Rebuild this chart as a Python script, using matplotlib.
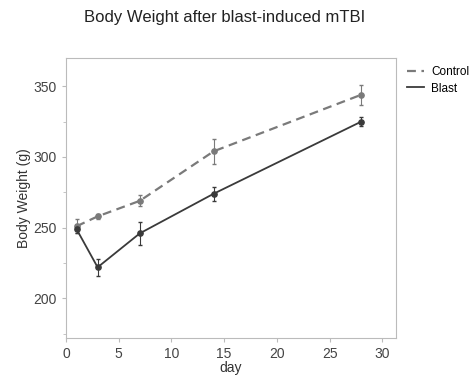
import matplotlib.pyplot as plt
from matplotlib.lines import Line2D
from matplotlib.ticker import MultipleLocator

plt.rcParams['font.family'] = ['Liberation Sans', 'DejaVu Sans']

days = [1, 3, 7, 14, 28]
control = [251, 258, 269, 304, 344]
control_err = [5, 2, 4, 9, 7]
blast = [249, 222, 246, 274, 325]
blast_err = [3, 6, 8, 5, 3]

fig = plt.figure(figsize=(4.77, 3.76), dpi=100)
ax = fig.add_axes([66/477, 38/376, 330/477, 280/376])

ctrl_style = dict(color='#7a7a7a', ls=(0, (4, 2.5)), lw=1.6)
blast_style = dict(color='#3a3a3a', ls='-', lw=1.3)

ax.errorbar(days, control, yerr=control_err, marker='o', ms=3.8, elinewidth=0.8,
            capsize=1.5, **ctrl_style)
ax.errorbar(days, blast, yerr=blast_err, marker='o', ms=3.8, elinewidth=0.8,
            capsize=1.5, **blast_style)

ax.set_xlim(0, 31.3)
ax.set_ylim(172, 370)
ax.set_xticks([0, 5, 10, 15, 20, 25, 30])
ax.set_yticks([200, 250, 300, 350])
ax.yaxis.set_minor_locator(MultipleLocator(25))
for s in ax.spines.values():
    s.set_color('#bbbbbb')
ax.tick_params(colors='#bbbbbb', labelcolor='#444444', labelsize=10, length=3)
ax.tick_params(which='minor', colors='#bbbbbb', length=2)

ax.set_xlabel('day', fontsize=10, color='#333333', labelpad=0)
ax.set_ylabel('Body Weight (g)', fontsize=10, color='#333333', labelpad=2)
ax.set_title('Body Weight after blast-induced mTBI', fontsize=12, color='#222222',
             pad=26, x=0.48)

handles = [Line2D([], [], **ctrl_style), Line2D([], [], **blast_style)]
ax.legend(handles, ['Control', 'Blast'], loc='upper left', bbox_to_anchor=(1.0, 1.01),
          frameon=False, fontsize=8.5, handlelength=1.5, handletextpad=0.6, labelspacing=0.4)

fig.savefig('out.png', dpi=100)
